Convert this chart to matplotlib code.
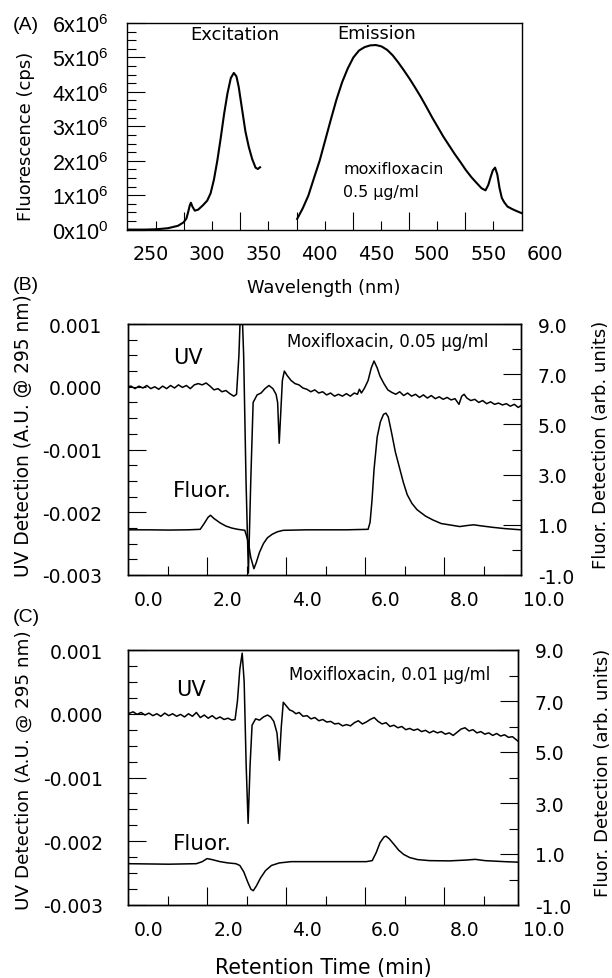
import numpy as np
import matplotlib
matplotlib.use('Agg')
import matplotlib.pyplot as plt

plt.rcParams['font.family'] = ['DejaVu Sans']
plt.rcParams['axes.unicode_minus'] = False
plt.rcParams['mathtext.fontset'] = 'custom'
plt.rcParams['mathtext.rm'] = 'Liberation Sans'
plt.rcParams['mathtext.it'] = 'Liberation Sans:italic'

# ---- (A) excitation / emission spectra, intensity in 1e6 cps ----
ex_nm = [229, 245, 255, 265, 274, 279, 281.5, 283, 284.5, 285.5, 287, 289, 292, 296,
         300, 303, 306, 309, 312, 315, 318, 321, 323.7, 326, 328, 331, 334, 337, 340,
         343, 345, 347]
ex_int = [0, 0, 0.01, 0.04, 0.11, 0.21, 0.32, 0.5, 0.7, 0.78, 0.66, 0.55, 0.58, 0.7,
          0.84, 1.05, 1.45, 2.0, 2.65, 3.35, 3.95, 4.4, 4.55, 4.45, 4.15, 3.5, 2.85, 2.4,
          2.05, 1.8, 1.76, 1.81]
em_nm = [380, 385, 390, 395, 400, 405, 410, 415, 420, 425, 430, 435, 440, 445, 450,
         455, 460, 465, 470, 475, 480, 485, 490, 495, 500, 505, 510, 515, 520, 525, 530,
         535, 540, 544, 547.5, 550, 552, 554, 556, 558, 560, 562, 564, 567, 571, 575, 579.5]
em_int = [0.31, 0.62, 0.99, 1.5, 2.0, 2.6, 3.2, 3.78, 4.28, 4.68, 5.0, 5.2, 5.3, 5.35,
          5.36, 5.32, 5.22, 5.06, 4.85, 4.62, 4.38, 4.12, 3.85, 3.56, 3.26, 2.98, 2.7,
          2.45, 2.2, 1.97, 1.73, 1.52, 1.34, 1.2, 1.14, 1.3, 1.52, 1.72, 1.8, 1.6, 1.2,
          0.92, 0.8, 0.67, 0.6, 0.54, 0.48]
wl_labels = [250, 300, 350, 400, 450, 500, 550, 600]
cps_ticks = [0, 1, 2, 3, 4, 5, 6]
cps_labels = ['0x10$^{0}$', '1x10$^{6}$', '2x10$^{6}$', '3x10$^{6}$',
              '4x10$^{6}$', '5x10$^{6}$', '6x10$^{6}$']

# ---- (B) moxifloxacin 0.05 ug/ml ; UV in 1e-3 A.U., fluor in arb. units ----
b_uv_t = [-0.56, -0.45, -0.35, -0.25, -0.15, -0.05, 0.05, 0.15, 0.25, 0.35, 0.45, 0.55,
          0.65, 0.75, 0.85, 0.95, 1.05, 1.15, 1.25, 1.35, 1.45, 1.55, 1.65, 1.75, 1.85,
          1.95, 2.05, 2.15, 2.22, 2.28, 2.34, 2.40, 2.46, 2.52, 2.58, 2.64, 2.74, 2.84,
          2.94, 3.04, 3.14, 3.22, 3.26, 3.30, 3.34, 3.38, 3.43, 3.50, 3.60, 3.70, 3.80,
          3.90, 4.00, 4.10, 4.20, 4.30, 4.40, 4.50, 4.60, 4.70, 4.80, 4.90, 5.00, 5.10,
          5.20, 5.28, 5.33, 5.38, 5.46, 5.55, 5.63, 5.70, 5.78, 5.85, 5.95, 6.05, 6.15,
          6.25, 6.35, 6.45, 6.55, 6.65, 6.75, 6.85, 6.95, 7.05, 7.15, 7.25, 7.35, 7.45,
          7.55, 7.65, 7.75, 7.85, 7.92, 7.98, 8.05, 8.15, 8.25, 8.35, 8.45, 8.55, 8.65,
          8.75, 8.85, 8.95, 9.05, 9.15, 9.25, 9.35, 9.42]
b_uv = [0.00, 0.01, -0.03, 0.01, -0.02, 0.02, -0.03, 0.00, -0.04, 0.01, -0.03, 0.02,
        -0.02, 0.03, -0.01, 0.02, -0.03, 0.03, 0.05, 0.03, 0.06, 0.01, -0.05, -0.03,
        -0.08, -0.06, -0.11, -0.15, -0.12, 0.50, 1.60, 0.50, -1.50, -2.97, -1.50, -0.25,
        -0.13, -0.10, -0.03, 0.02, -0.03, -0.12, -0.25, -0.90, -0.40, 0.10, 0.25, 0.18,
        0.10, 0.05, 0.03, -0.02, -0.04, -0.08, -0.05, -0.10, -0.08, -0.13, -0.10, -0.15,
        -0.12, -0.15, -0.11, -0.15, -0.10, -0.12, -0.04, -0.10, -0.02, 0.10, 0.30, 0.41,
        0.30, 0.17, 0.05, -0.05, -0.09, -0.12, -0.08, -0.14, -0.10, -0.15, -0.12, -0.17,
        -0.13, -0.18, -0.14, -0.19, -0.16, -0.20, -0.17, -0.21, -0.19, -0.28, -0.15,
        -0.12, -0.18, -0.22, -0.20, -0.25, -0.22, -0.27, -0.24, -0.28, -0.26, -0.29,
        -0.27, -0.31, -0.28, -0.33, -0.30]
b_fl_t = [-0.56, 0.0, 0.5, 1.0, 1.30, 1.40, 1.50, 1.56, 1.65, 1.80, 1.95, 2.10, 2.25,
          2.43, 2.52, 2.58, 2.66, 2.72, 2.80, 2.90, 3.00, 3.12, 3.25, 3.40, 4.0, 5.0,
          5.55, 5.60, 5.65, 5.70, 5.78, 5.86, 5.94, 6.00, 6.06, 6.14, 6.24, 6.34, 6.44,
          6.54, 6.66, 6.79, 7.00, 7.18, 7.40, 7.60, 7.87, 8.05, 8.22, 8.40, 8.70, 9.00, 9.42]
b_fl = [0.80, 0.80, 0.79, 0.80, 0.82, 1.05, 1.30, 1.38, 1.25, 1.08, 0.95, 0.87, 0.82,
        0.78, 0.30, -0.30, -0.75, -0.50, -0.10, 0.25, 0.48, 0.62, 0.72, 0.78, 0.80, 0.80,
        0.82, 1.10, 2.00, 3.20, 4.50, 5.10, 5.40, 5.45, 5.30, 4.70, 3.90, 3.30, 2.70,
        2.20, 1.85, 1.60, 1.35, 1.20, 1.05, 1.00, 0.93, 0.97, 1.00, 0.96, 0.90, 0.85, 0.80]

# ---- (C) moxifloxacin 0.01 ug/ml ----
c_uv_t = [-0.53, -0.4, -0.3, -0.2, -0.1, 0.0, 0.1, 0.2, 0.3, 0.4, 0.5, 0.6, 0.7, 0.8,
          0.9, 1.0, 1.1, 1.2, 1.3, 1.4, 1.5, 1.6, 1.7, 1.8, 1.9, 2.0, 2.1, 2.18, 2.24,
          2.30, 2.36, 2.41, 2.46, 2.51, 2.56, 2.61, 2.70, 2.80, 2.90, 3.00, 3.08, 3.16,
          3.24, 3.30, 3.35, 3.40, 3.48, 3.56, 3.64, 3.72, 3.80, 3.90, 4.00, 4.10, 4.20,
          4.30, 4.40, 4.50, 4.60, 4.70, 4.80, 4.90, 5.00, 5.10, 5.20, 5.30, 5.40, 5.50,
          5.60, 5.70, 5.80, 5.90, 6.00, 6.10, 6.20, 6.30, 6.40, 6.50, 6.60, 6.70, 6.80,
          6.90, 7.00, 7.10, 7.20, 7.30, 7.40, 7.50, 7.60, 7.70, 7.80, 7.90, 8.00, 8.10,
          8.20, 8.30, 8.40, 8.50, 8.60, 8.70, 8.80, 8.90, 9.00, 9.10, 9.20, 9.34]
c_uv = [0.00, 0.03, -0.01, 0.02, -0.02, 0.01, -0.03, 0.00, -0.04, 0.01, -0.03, 0.00,
        -0.04, -0.01, -0.05, 0.00, -0.04, 0.02, -0.06, -0.02, -0.07, -0.03, -0.08, -0.05,
        -0.09, -0.07, -0.10, -0.09, 0.20, 0.70, 0.95, 0.50, -0.80, -1.72, -0.80, -0.18,
        -0.08, -0.10, -0.05, -0.02, -0.05, -0.12, -0.30, -0.73, -0.20, 0.18, 0.12, 0.06,
        0.04, 0.00, 0.02, -0.04, -0.03, -0.08, -0.06, -0.11, -0.09, -0.13, -0.12, -0.16,
        -0.15, -0.19, -0.17, -0.19, -0.14, -0.11, -0.16, -0.13, -0.09, -0.06, -0.12,
        -0.16, -0.14, -0.20, -0.18, -0.22, -0.20, -0.25, -0.23, -0.26, -0.24, -0.28,
        -0.26, -0.30, -0.27, -0.30, -0.28, -0.32, -0.30, -0.34, -0.29, -0.24, -0.22,
        -0.27, -0.25, -0.30, -0.28, -0.32, -0.30, -0.34, -0.31, -0.35, -0.33, -0.37,
        -0.36, -0.43]
c_fl_t = [-0.53, 0.5, 1.2, 1.35, 1.47, 1.60, 1.80, 2.00, 2.20, 2.30, 2.40, 2.50, 2.58,
          2.64, 2.72, 2.82, 2.95, 3.10, 3.30, 3.60, 4.50, 5.50, 5.65, 5.75, 5.85, 5.95,
          6.00, 6.08, 6.20, 6.32, 6.45, 6.60, 6.80, 7.10, 7.60, 8.00, 8.26, 8.50, 9.00, 9.34]
c_fl = [0.62, 0.60, 0.62, 0.70, 0.82, 0.78, 0.70, 0.65, 0.62, 0.55, 0.30, -0.10, -0.38,
        -0.44, -0.25, 0.05, 0.35, 0.55, 0.65, 0.70, 0.70, 0.70, 0.74, 1.05, 1.45, 1.67,
        1.70, 1.60, 1.38, 1.15, 0.98, 0.86, 0.78, 0.74, 0.73, 0.76, 0.79, 0.74, 0.70, 0.68]

rt_labels = [0, 2, 4, 6, 8, 10]
uv_ticks = [-0.003, -0.002, -0.001, 0.0, 0.001]
uv_labels = ['-0.003', '-0.002', '-0.001', '0.000', '0.001']
fl_ticks = [-1, 1, 3, 5, 7, 9]
fl_labels = ['-1.0', '1.0', '3.0', '5.0', '7.0', '9.0']

W, H = 612, 979
fig = plt.figure(figsize=(W / 100, H / 100), dpi=100)


def box(l, t, r, b):
    # pixel box -> figure fraction rect
    return [l / W, 1 - b / H, (r - l) / W, (b - t) / H]


def bottom_labels(ax, vals, fmt, size):
    for v in vals:
        ax.annotate(fmt.format(v), xy=(v, 0), xycoords=('data', 'axes fraction'),
                    xytext=(0, -10.5), textcoords='offset points', ha='center',
                    va='top', fontsize=size, annotation_clip=False)


# ---------------- panel A ----------------
axA = fig.add_axes(box(127, 24, 521.5, 230.6))
axA.plot(ex_nm, np.array(ex_int) * 1e6, color='k', lw=1.5)
axA.plot(em_nm, np.array(em_int) * 1e6, color='k', lw=1.5)
axA.set_xlim(228.7, 579.5)
axA.set_ylim(0, 6e6)
axA.set_yticks([v * 1e6 for v in cps_ticks], labels=cps_labels)
axA.set_yticks(np.arange(0, 6e6, 0.25e6), minor=True)
axA.set_xticks(np.arange(279.5, 560, 50))
axA.set_xticks(np.arange(254.5, 570, 50), minor=True)
axA.tick_params(which='both', direction='in', top=False, right=False, width=0.8,
                labelbottom=False)
axA.tick_params(which='major', length=13)
axA.tick_params(which='minor', length=6.5)
axA.tick_params(axis='y', pad=13, labelsize=15.5)
for lab in axA.get_yticklabels():
    lab.set_family('Liberation Sans')
for s in axA.spines.values():
    s.set_linewidth(1.0)
bottom_labels(axA, wl_labels, '{}', 13.8)
axA.text(324.5, 5.69e6, 'Excitation', ha='center', va='center', fontsize=13)
axA.text(451, 5.72e6, 'Emission', ha='center', va='center', fontsize=12.8)
axA.text(421, 1.76e6, 'moxifloxacin', ha='left', va='center', fontsize=11.4)
axA.text(421, 1.12e6, '0.5 \u03bcg/ml', ha='left', va='center', fontsize=11.4)


# ---------------- panels B and C ----------------
def chrom(rect, xlim, tick0, uv_t, uv, fl_t, fl, title):
    ax = fig.add_axes(rect)
    ax2 = ax.twinx()
    ax.plot(uv_t, np.array(uv) * 1e-3, color='k', lw=1.1)
    ax2.plot(fl_t, fl, color='k', lw=1.1)
    ax.set_xlim(*xlim)
    ax.set_ylim(-0.003, 0.001)
    ax2.set_ylim(-1, 9)
    ax.set_yticks(uv_ticks, labels=uv_labels)
    ax.set_yticks(np.arange(-0.003, 0.00101, 0.00025), minor=True)
    ax2.set_yticks(fl_ticks, labels=fl_labels)
    ax2.set_yticks([0, 2, 4, 6, 8], minor=True)
    ax.set_xticks(np.arange(tick0 + 1, 9.3, 2))
    ax.set_xticks(np.arange(tick0, 9.3, 2), minor=True)
    for a in (ax, ax2):
        a.tick_params(which='both', direction='in', width=0.8, top=False)
        a.tick_params(which='major', length=13)
        a.tick_params(which='minor', length=6.5)
        for s in a.spines.values():
            s.set_linewidth(1.0)
    ax.tick_params(which='both', right=False, labelbottom=False)
    ax.tick_params(axis='y', pad=18, labelsize=13.5)
    ax2.tick_params(axis='y', which='both', left=False, right=True, pad=12,
                    labelsize=13.5)
    bottom_labels(ax, rt_labels, '{:.1f}', 13.5)
    ax.text(title[0], title[1] * 1e-3, title[2], ha='center', va='center',
            fontsize=11.9)
    return ax


axB = chrom(box(127.5, 325, 521, 576), (-0.54, 9.42), 0.48,
            b_uv_t, b_uv, b_fl_t, b_fl, (6.05, 0.73, 'Moxifloxacin, 0.05 \u03bcg/ml'))
axB.text(0.62, 0.00047, 'UV', ha='left', va='center', fontsize=15)
axB.text(0.62, -0.00164, 'Fluor.', ha='left', va='center', fontsize=15.5)

axC = chrom(box(128, 651, 518, 906), (-0.53, 9.34), 0.47,
            c_uv_t, c_uv, c_fl_t, c_fl, (6.1, 0.62, 'Moxifloxacin, 0.01 \u03bcg/ml'))
axC.text(0.70, 0.00039, 'UV', ha='left', va='center', fontsize=15)
axC.text(0.61, -0.00202, 'Fluor.', ha='left', va='center', fontsize=15.5)


# ---------------- labels ----------------
def ftext(x, y, s, **kw):
    fig.text(x / W, 1 - y / H, s, ha='center', va='center', **kw)


ftext(26, 136, 'Fluorescence (cps)', rotation=90, fontsize=13)
ftext(323.6, 288, 'Wavelength (nm)', fontsize=12.8)
ftext(24, 436, 'UV Detection (A.U. @ 295 nm)', rotation=90, fontsize=13.4)
ftext(601, 445, 'Fluor. Detection (arb. units)', rotation=90, fontsize=13)
ftext(24, 770, 'UV Detection (A.U. @ 295 nm)', rotation=90, fontsize=13.2)
ftext(603, 773, 'Fluor. Detection (arb. units)', rotation=90, fontsize=13)
ftext(323, 968, 'Retention Time (min)', fontsize=14.8)
ftext(26, 25, '(A)', fontsize=14, family='Liberation Sans')
ftext(26, 285, '(B)', fontsize=14, family='Liberation Sans')
ftext(26, 618, '(C)', fontsize=14, family='Liberation Sans')

fig.savefig('out.png', dpi=100)
